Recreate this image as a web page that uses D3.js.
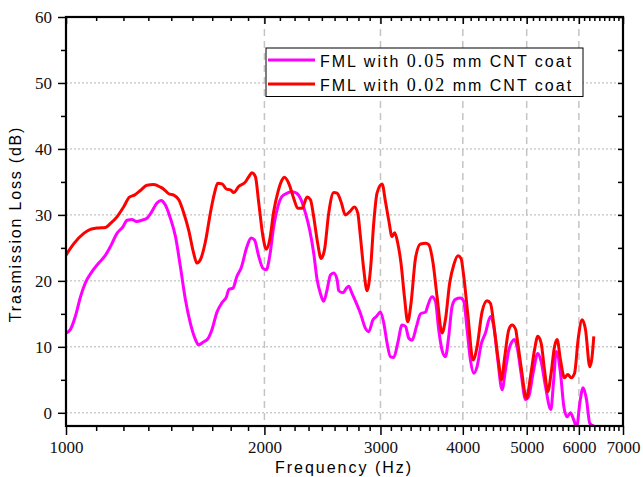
<!DOCTYPE html>
<html>
<head>
<meta charset="utf-8">
<script src="https://cdn.jsdelivr.net/npm/d3@7"></script>
<style>
  body { margin: 0; background: #fff; }
  .tick text { font-family: "Liberation Serif", serif; font-size: 17px; fill: #111; }
</style>
</head>
<body>
<div id="viz"></div>
<script>
// data: frequency (Hz) and transmission loss (dB)
var freq05 = [1000,1015,1033,1052,1070,1095,1121,1148,1168,1195,1220,1238,1259,1279,1304,1327,1346,1374,1394,1415,1440,1466,1491,1518,1544,1572,1590,1614,1641,1665,1695,1725,1752,1766,1792,1817,1843,1882,1909,1932,1961,1990,2014,2037,2066,2097,2127,2165,2203,2237,2273,2308,2343,2376,2404,2432,2460,2489,2519,2548,2578,2593,2632,2664,2685,2716,2758,2797,2847,2879,2923,2958,3000,3035,3070,3106,3143,3187,3235,3274,3312,3350,3402,3450,3514,3530,3592,3635,3677,3720,3764,3808,3852,3898,3967,4013,4060,4108,4156,4204,4263,4329,4405,4457,4520,4588,4643,4697,4751,4790,4835,4903,4979,5037,5113,5198,5258,5339,5440,5490,5545,5627,5692,5758,5827,5895,5952,6020,6089,6162,6233,6321];
var loss05 = [12.1,12.6,14.6,17.6,19.7,21.4,22.7,23.9,25.2,27.2,28.2,29.2,29.3,29.0,29.2,29.5,30.3,31.8,32.2,31.5,29.5,26.7,22.2,17.1,13.6,11.1,10.3,10.7,11.2,12.6,15.3,16.7,17.6,18.7,18.9,20.7,21.9,25.2,26.5,26.2,23.7,21.9,21.7,23.7,28.2,31.3,32.8,33.3,33.5,33.3,32.3,30.3,27.7,24.2,20.2,18.1,16.9,18.6,20.9,21.2,20.2,18.5,18.2,18.9,19.2,18.1,16.6,15.1,12.8,12.3,14.1,14.6,15.3,13.6,10.6,8.5,8.4,10.6,13.3,13.1,11.3,11.0,13.1,15.0,15.3,15.9,17.6,16.9,12.6,9.5,8.5,11.6,16.1,17.2,17.4,16.9,12.6,8.0,6.0,7.0,10.3,12.1,14.6,13.1,8.0,3.5,6.5,9.5,10.8,11.1,10.0,6.0,2.0,2.5,6.0,9.0,7.8,4.0,0.5,4.5,9.3,6.0,1.0,-0.6,0.0,-1.1,-2.2,1.5,3.8,2.0,-1.6,-2.0];

var freq02 = [1000,1027,1064,1089,1114,1148,1168,1195,1223,1248,1270,1297,1327,1358,1391,1407,1432,1457,1483,1509,1535,1562,1580,1599,1628,1656,1680,1699,1725,1752,1776,1797,1828,1872,1894,1915,1938,1961,1990,2014,2037,2066,2097,2127,2145,2177,2216,2247,2281,2321,2349,2376,2409,2438,2467,2504,2548,2578,2614,2654,2695,2739,2771,2797,2830,2863,2897,2930,2964,3017,3053,3088,3124,3153,3187,3223,3262,3300,3338,3390,3450,3514,3551,3605,3656,3720,3764,3821,3875,3933,3975,4013,4069,4146,4204,4278,4353,4405,4467,4535,4578,4631,4697,4751,4813,4835,4903,4997,5067,5138,5198,5258,5321,5383,5445,5510,5561,5627,5706,5773,5840,5910,5984,6069,6141,6233,6283,6321];
var loss02 = [23.9,25.6,27.2,27.8,28.0,28.1,28.7,29.7,31.2,32.7,33.0,33.7,34.5,34.6,34.2,33.9,33.2,33.0,32.3,30.3,27.7,24.2,22.7,23.2,26.0,30.3,33.3,34.8,34.7,33.9,33.8,33.4,34.3,35.0,35.8,36.4,35.8,31.8,26.7,24.8,26.2,30.5,33.5,35.3,35.7,34.8,32.5,31.0,31.0,32.7,32.3,29.7,25.7,23.4,24.7,30.3,33.4,33.3,32.0,30.0,30.5,31.2,30.3,26.7,21.7,18.5,21.7,28.7,33.3,34.7,32.0,29.2,26.7,27.3,25.7,22.7,17.6,13.8,16.6,23.4,25.6,25.7,25.5,22.7,17.6,12.1,14.1,19.7,22.4,23.8,23.4,20.7,15.1,8.0,10.0,15.3,17.0,16.6,12.6,7.5,5.0,8.5,12.6,13.3,12.6,11.3,7.0,2.2,5.5,9.5,11.6,10.6,6.5,3.2,6.0,10.0,11.1,8.0,5.3,5.8,5.3,6.0,11.1,14.1,12.6,7.0,8.5,11.6];

var seriesNames = ["FML with |0.05| mm CNT coat", "FML with |0.02| mm CNT coat"];
var seriesColors = ["#ff00ff", "#ff0000"];
var xMajor = [1000, 2000, 3000, 4000, 5000, 6000, 7000];
var yMajor = [0, 10, 20, 30, 40, 50, 60];

var W = 643, H = 477;
var pL = 66, pR = 623, pT = 17, pB = 426;

var svg = d3.select("#viz").append("svg")
  .attr("width", W)
  .attr("height", H);

svg.append("rect").attr("width", W).attr("height", H).attr("fill", "#fff");

var x = d3.scaleLog().domain([1000, 7000]).range([pL, pR]);
var y = d3.scaleLinear().domain([-2, 60]).range([pB, pT]);

// minor ticks: 8 between majors (linear steps of 1000/9)
var xMinor = [];
for (var i = 0; i < xMajor.length - 1; i++)
  for (var k = 1; k <= 8; k++) xMinor.push(xMajor[i] + k * 1000 / 9);
var yMinor = [5, 15, 25, 35, 45, 55];

// gridlines
svg.append("g").selectAll("line")
  .data([0, 10, 20, 30, 40, 50])
  .join("line")
  .attr("x1", pL).attr("x2", pR)
  .attr("y1", d => y(d)).attr("y2", d => y(d))
  .attr("stroke", "#b4b4b4").attr("stroke-width", 1)
  .attr("stroke-dasharray", "2,2");

svg.append("g").selectAll("line")
  .data(xMajor.filter(d => d > 1000 && d < 7000))
  .join("line")
  .attr("x1", d => x(d)).attr("x2", d => x(d))
  .attr("y1", pT).attr("y2", pB)
  .attr("stroke", "#c4c4c4").attr("stroke-width", 1.5)
  .attr("stroke-dasharray", "7,5");

// clip
svg.append("clipPath").attr("id", "clip")
  .append("rect").attr("x", pL).attr("y", pT)
  .attr("width", pR - pL).attr("height", pB - pT);

var line = d3.line()
  .x(d => x(d[0]))
  .y(d => y(d[1]))
  .curve(d3.curveMonotoneX);

var series = [d3.zip(freq05, loss05), d3.zip(freq02, loss02)];

svg.append("g").attr("clip-path", "url(#clip)")
  .selectAll("path")
  .data(series)
  .join("path")
  .attr("fill", "none")
  .attr("stroke", (d, i) => seriesColors[i])
  .attr("stroke-width", 3)
  .attr("stroke-linejoin", "round")
  .attr("d", line);

// axes
var fmt = d3.format("d");
function styleAxis(g) {
  g.select(".domain").remove();
  g.selectAll(".tick line").attr("stroke", "#000").attr("stroke-width", 1.5);
}

svg.append("g").attr("transform", "translate(0," + pB + ")")
  .call(d3.axisBottom(x).tickValues(xMajor).tickFormat(fmt).tickSize(9).tickPadding(6))
  .call(styleAxis);
svg.append("g").attr("transform", "translate(0," + pB + ")")
  .call(d3.axisBottom(x).tickValues(xMinor).tickFormat("").tickSize(5))
  .call(styleAxis);
svg.append("g").attr("transform", "translate(0," + pT + ")")
  .call(d3.axisTop(x).tickValues(xMajor).tickFormat("").tickSize(-7))
  .call(styleAxis);
svg.append("g").attr("transform", "translate(0," + pT + ")")
  .call(d3.axisTop(x).tickValues(xMinor).tickFormat("").tickSize(-4))
  .call(styleAxis);

svg.append("g").attr("transform", "translate(" + pL + ",0)")
  .call(d3.axisLeft(y).tickValues(yMajor).tickFormat(fmt).tickSize(8).tickPadding(6))
  .call(styleAxis);
svg.append("g").attr("transform", "translate(" + pL + ",0)")
  .call(d3.axisLeft(y).tickValues(yMinor).tickFormat("").tickSize(5))
  .call(styleAxis);
svg.append("g").attr("transform", "translate(" + pR + ",0)")
  .call(d3.axisRight(y).tickValues(yMajor.concat(yMinor)).tickFormat("").tickSize(-5))
  .call(styleAxis);

// frame
svg.append("rect")
  .attr("x", pL).attr("y", pT)
  .attr("width", pR - pL).attr("height", pB - pT)
  .attr("fill", "none").attr("stroke", "#000").attr("stroke-width", 2.2);

// axis titles
svg.append("text")
  .attr("x", 344).attr("y", 473)
  .attr("text-anchor", "middle")
  .style("font-family", "'Liberation Sans', Arial, sans-serif")
  .style("font-size", "16px")
  .style("letter-spacing", "2px")
  .text("Frequency (Hz)");

svg.append("text")
  .attr("transform", "translate(21,224) rotate(-90)")
  .attr("text-anchor", "middle")
  .style("font-family", "'Liberation Sans', Arial, sans-serif")
  .style("font-size", "16px")
  .style("letter-spacing", "1.8px")
  .text("Trasmission Loss (dB)");

// legend
var lg = svg.append("g");
lg.append("rect")
  .attr("x", 266).attr("y", 48).attr("width", 317).attr("height", 48.5)
  .attr("fill", "#fff").attr("stroke", "#000").attr("stroke-width", 1);

var rowY = [60, 84];
seriesNames.forEach(function(name, i) {
  lg.append("line")
    .attr("x1", 268).attr("x2", 315)
    .attr("y1", rowY[i]).attr("y2", rowY[i])
    .attr("stroke", seriesColors[i]).attr("stroke-width", 3);
  var parts = name.split("|");
  var t = lg.append("text")
    .attr("x", 320).attr("y", rowY[i] + 6.5)
    .style("font-family", "'Liberation Sans', Arial, sans-serif")
    .style("font-size", "16px")
    .style("letter-spacing", "2px");
  t.append("tspan").text(parts[0]);
  t.append("tspan").style("font-family", "'Liberation Serif', serif").style("font-size", "18px").text(parts[1]);
  t.append("tspan").text(parts[2]);
});
</script>
</body>
</html>
